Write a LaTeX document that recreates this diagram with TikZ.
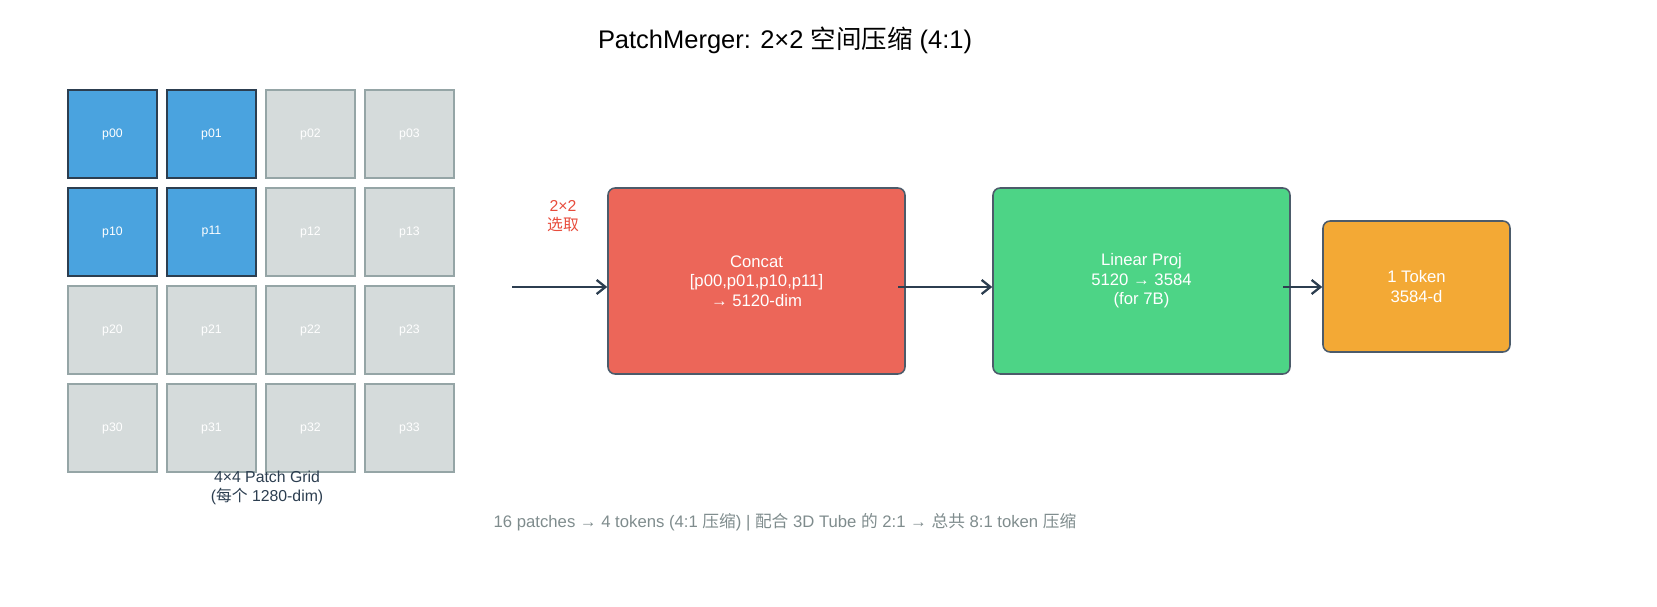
\documentclass[tikz,border=0pt]{standalone}
\usepackage{fontspec}
\setmainfont{Liberation Sans}
\newfontfamily\cjk{Noto Sans CJK SC}
\usetikzlibrary{positioning,arrows.meta}
\definecolor{myblue}{RGB}{74,163,223}
\definecolor{mygreyf}{RGB}{213,219,219}
\definecolor{mygreyd}{RGB}{149,165,166}
\definecolor{myred}{RGB}{236,102,89}
\definecolor{mygreen}{RGB}{77,212,134}
\definecolor{myorange}{RGB}{243,169,53}
\definecolor{mydark}{RGB}{44,62,80}
\definecolor{myfoot}{RGB}{127,140,141}
\definecolor{mytitle}{RGB}{231,76,60}
\begin{document}
\begin{tikzpicture}[x=0.02cm,y=-0.02cm,
        cell/.style={draw=mygreyd,fill=mygreyf,line width=0.9pt,minimum width=1.78cm,minimum height=1.76cm,
            inner sep=0pt,text=white,font=\fontsize{7}{8}\selectfont},
        selcell/.style={cell,draw=mydark,fill=myblue},
        block/.style={draw=mydark!85,line width=0.9pt,rounded corners=4pt,text=white,align=center,
            font=\fontsize{9.5}{11}\selectfont},
        flow/.style={-{Straight Barb[length=5pt,width=8pt,line width=1.3pt]},draw=mydark,line width=1.4pt},
    ]
    \useasboundingbox (0,0) rectangle (1657,607);
    \node[font=\fontsize{14.5}{16}\selectfont] (title) at (785,40) {PatchMerger: 2×2 {\cjk 空间压缩} (4:1)};

    % 4x4 patch grid
    \foreach \r in {0,...,3}{
        \foreach \c in {0,...,3}{
            \pgfmathtruncatemacro\sel{(\r<2)&&(\c<2)}
            \ifnum\sel=1
                \node[selcell] (p\r\c) at (112.5+99*\c,134+98*\r) {p\r\c};
            \else
                \node[cell] (p\r\c) at (112.5+99*\c,134+98*\r) {p\r\c};
            \fi
        }
    }
    \node[text=mydark,align=center,font=\fontsize{9}{10.5}\selectfont] (gridlbl) at (267,488) {4×4 Patch Grid\\({\cjk 每个} 1280-dim)};

    \coordinate (start) at (512,287);
    \node[text=mytitle,align=center,font=\fontsize{9}{10.5}\selectfont] (sel) at (563,216) {2×2\\{\cjk 选取}};

    \node[block,fill=myred,minimum width=5.94cm,minimum height=3.72cm] (concat) at (756.5,281) {Concat\\{}[p00,p01,p10,p11]\\→ 5120-dim};
    \node[block,fill=mygreen,minimum width=5.94cm,minimum height=3.72cm] (proj) at (1141.5,281) {Linear Proj\\5120 → 3584\\(for 7B)};
    \node[block,fill=myorange,minimum width=3.74cm,minimum height=2.62cm] (token) at (1416.5,286.5) {1 Token\\3584-d};

    \draw[flow] (start) -- (concat.west|-start);
    \draw[flow] ([xshift=-0.15cm]concat.east|-start) -- (proj.west|-start);
    \draw[flow] ([xshift=-0.15cm]proj.east|-start) -- (token.west|-start);

    \node[text=myfoot,font=\fontsize{9.5}{11}\selectfont] (foot) at (785,522) {16 patches → 4 tokens (4:1 {\cjk 压缩}) | {\cjk 配合} 3D Tube {\cjk 的} 2:1 → {\cjk 总共} 8:1 token {\cjk 压缩}};
\end{tikzpicture}
\end{document}
